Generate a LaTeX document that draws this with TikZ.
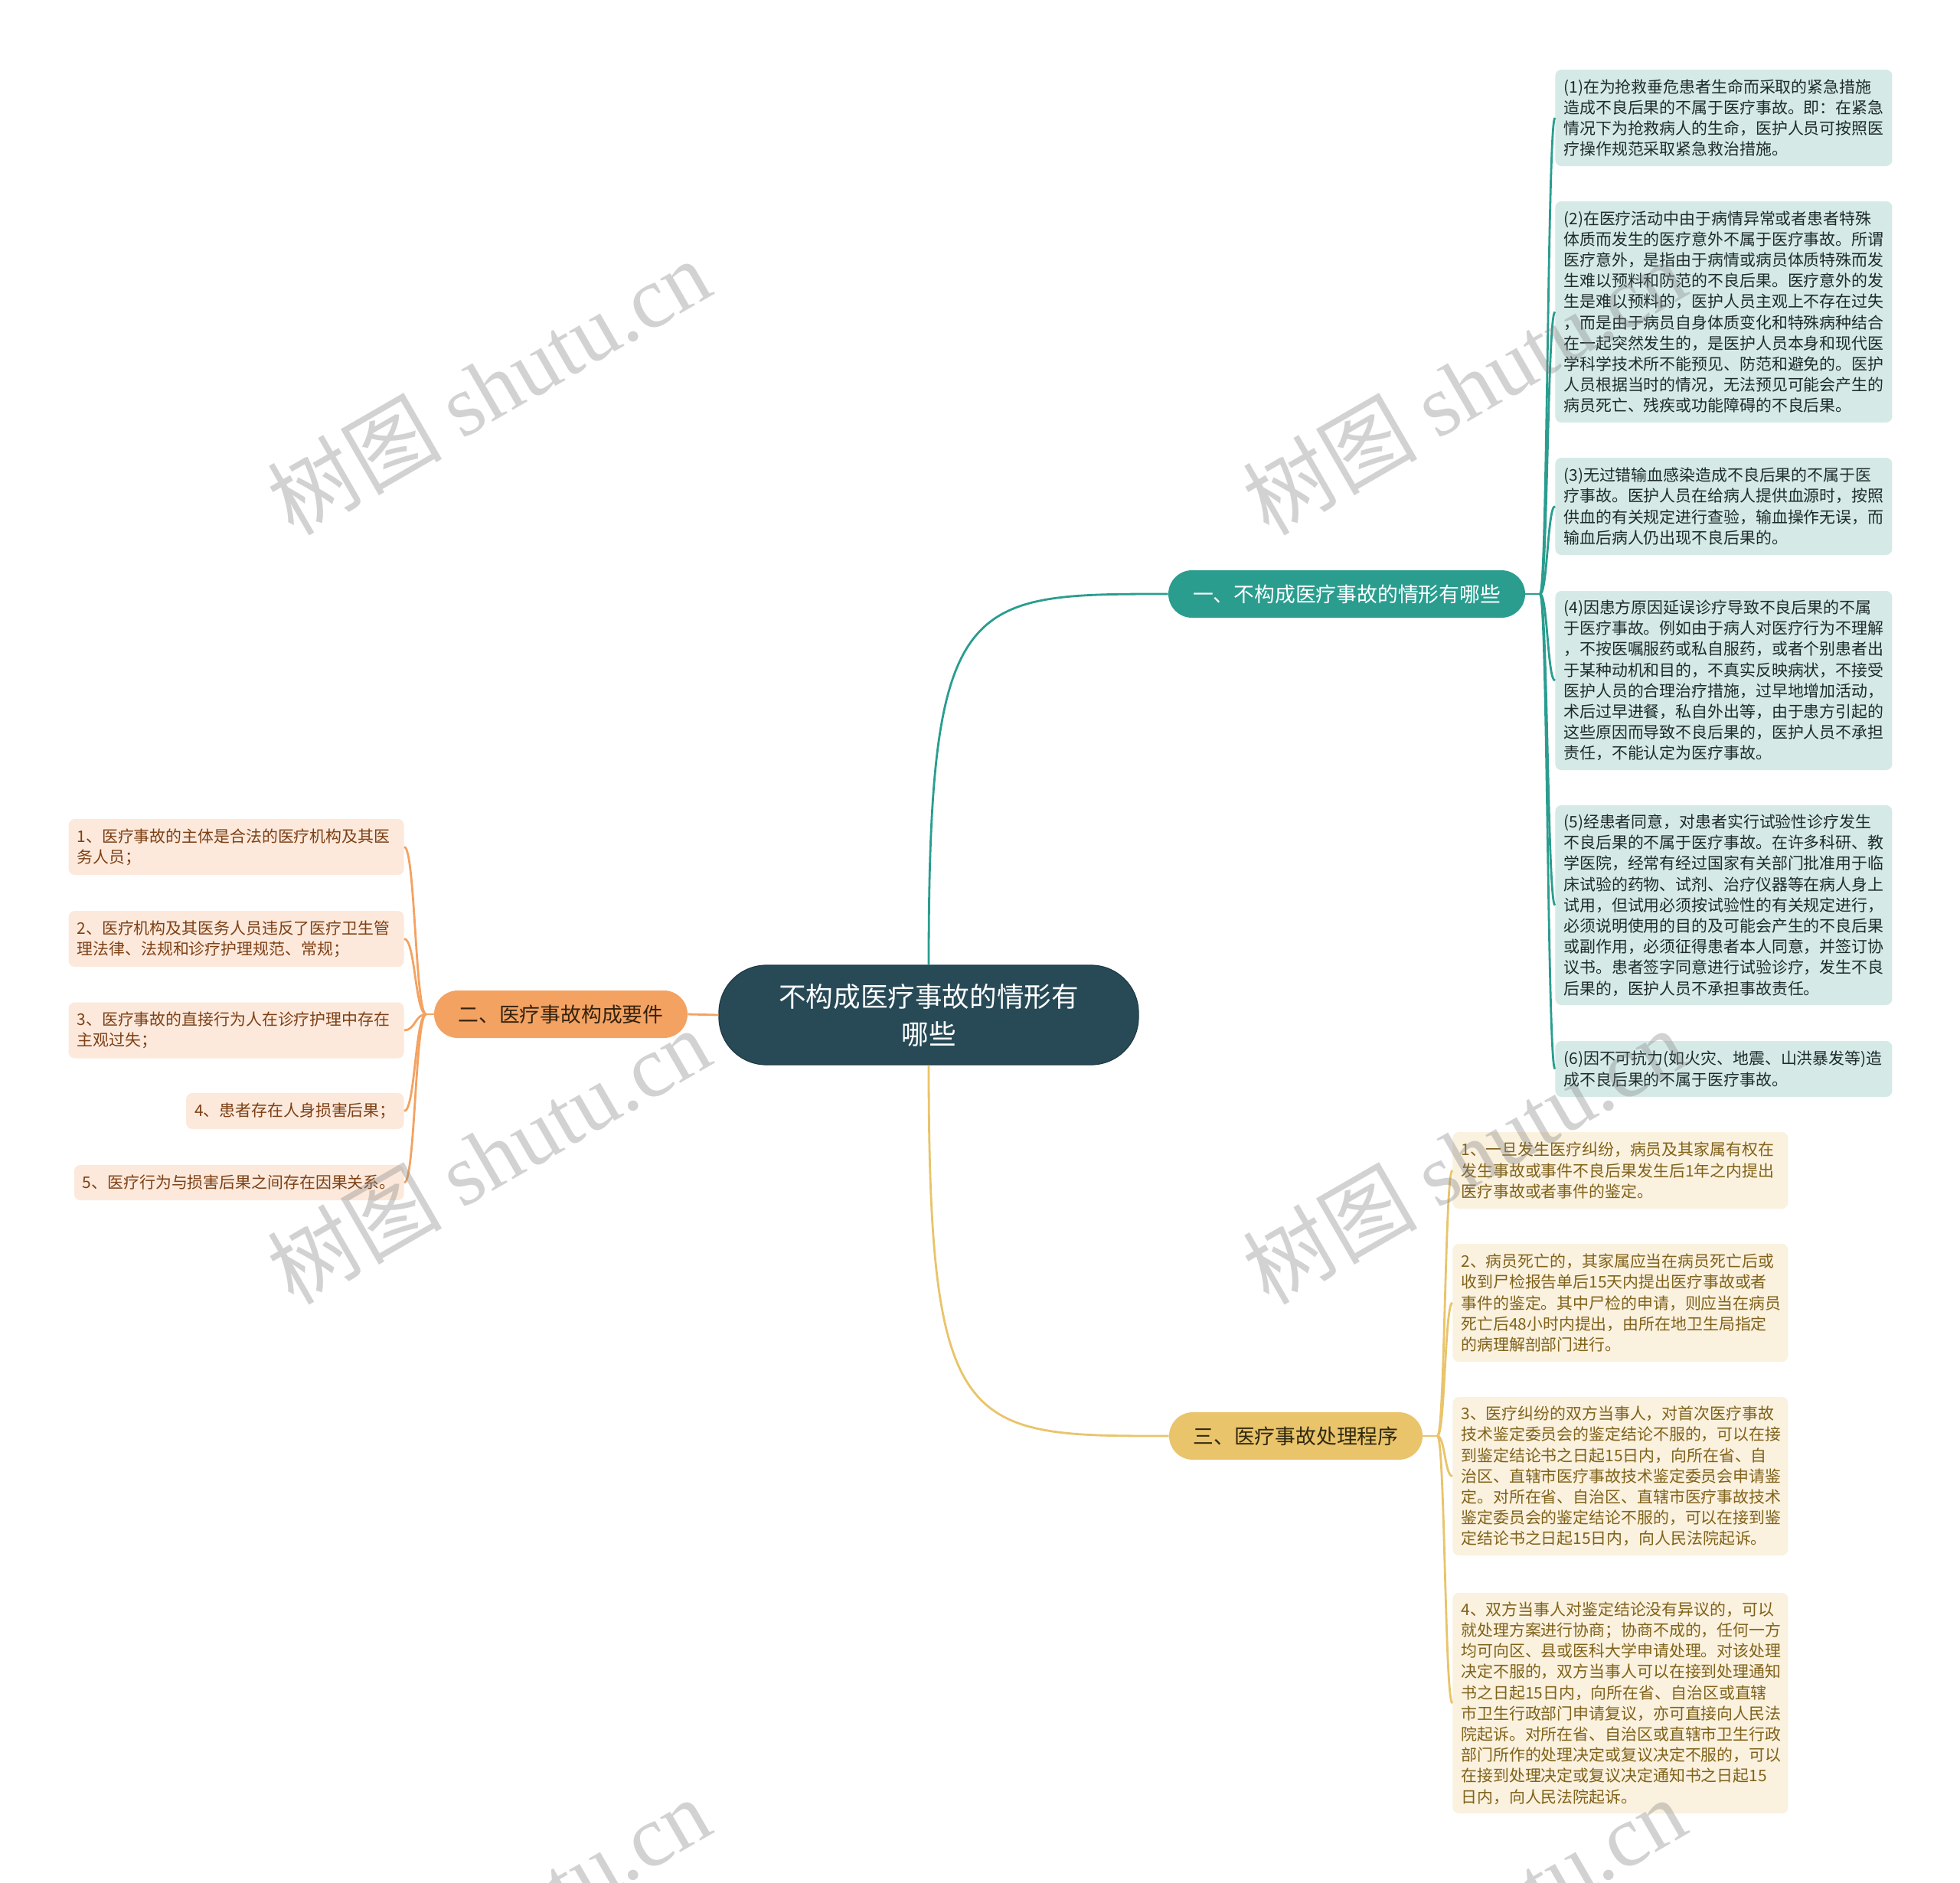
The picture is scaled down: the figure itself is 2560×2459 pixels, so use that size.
\documentclass[tikz,border=0pt]{standalone}
\usepackage{fontspec}
\setmainfont{Noto Sans CJK SC}
\newfontfamily\wmserif{Liberation Serif}
\usetikzlibrary{calc}
\definecolor{rootC}{HTML}{284A57}
\definecolor{rootB}{HTML}{1E3A45}
\definecolor{tealC}{HTML}{2A9D8F}
\definecolor{tealL}{HTML}{D5EAE7}
\definecolor{tealT}{HTML}{1E2B2A}
\definecolor{orC}{HTML}{F4A261}
\definecolor{orL}{HTML}{FCE9DC}
\definecolor{orT}{HTML}{7D4015}
\definecolor{orBT}{HTML}{33220F}
\definecolor{yeC}{HTML}{E9C46A}
\definecolor{yeL}{HTML}{FAF1DE}
\definecolor{yeT}{HTML}{80621A}
\definecolor{yeBT}{HTML}{2F2810}
\definecolor{wmgray}{HTML}{808080}
\newcommand{\leaffont}{\fontsize{10.45pt}{13.6pt}\selectfont}
\newcommand{\brfont}{\fontsize{13.4pt}{16pt}\selectfont}
\newcommand{\rootfont}{\fontsize{17.8pt}{24.5pt}\selectfont}
\tikzset{
  leafbase/.style={rounded corners=4pt, inner xsep=5.5pt, inner ysep=0pt, align=left, font=\leaffont},
  leafT/.style={leafbase, fill=tealL, text=tealT, text width=209pt, anchor=west},
  leafY/.style={leafbase, fill=yeL, text=yeT, text width=208pt, anchor=west},
  leafO/.style={leafbase, fill=orL, text=orT, anchor=east},
  branchbox/.style={rounded corners=15.5pt, minimum height=31pt, inner xsep=0pt, inner ysep=0pt, font=\brfont},
  rootbox/.style={rounded corners=31pt, fill=rootC, draw=rootB, line width=0.6pt, text=white, align=center, font=\rootfont, minimum width=274pt, minimum height=65pt},
  conn/.style={line width=1.4pt},
  sconn/.style={to path={.. controls ($(\tikztostart)!0.5!(\tikztotarget |- \tikztostart)$) and ($(\tikztotarget)!0.5!(\tikztostart |- \tikztotarget)$) .. (\tikztotarget)}},
  wm/.style={rotate=30, text=wmgray, text opacity=0.35, font=\fontsize{57pt}{60pt}\selectfont}
}
\begin{document}
\begin{tikzpicture}[x=0.5pt,y=-0.5pt]
\useasboundingbox (0,0) rectangle (2560,2459);
\fill[white] (0,0) rectangle (2560,2459);

% root
\node[rootbox] (root) at (1213,1326) {不构成医疗事故的情形有\\哪些};

% branches
\node[branchbox, fill=tealC, text=white, minimum width=233pt] (B1) at (1759,776) {一、不构成医疗事故的情形有哪些};
\node[branchbox, fill=orC, text=orBT, minimum width=165.5pt] (B2) at (732.5,1325) {二、医疗事故构成要件};
\node[branchbox, fill=yeC, text=yeBT, minimum width=165.5pt] (B3) at (1692.5,1876) {三、医疗事故处理程序};

% teal leaves
\node[leafT, minimum height=63pt] (T1) at (2031,154) {(1)在为抢救垂危患者生命而采取的紧急措施\\造成不良后果的不属于医疗事故。即：在紧急\\情况下为抢救病人的生命，医护人员可按照医\\疗操作规范采取紧急救治措施。};
\node[leafT, minimum height=144.5pt] (T2) at (2031,407.5) {(2)在医疗活动中由于病情异常或者患者特殊\\体质而发生的医疗意外不属于医疗事故。所谓\\医疗意外，是指由于病情或病员体质特殊而发\\生难以预料和防范的不良后果。医疗意外的发\\生是难以预料的，医护人员主观上不存在过失\\，而是由于病员自身体质变化和特殊病种结合\\在一起突然发生的，是医护人员本身和现代医\\学科学技术所不能预见、防范和避免的。医护\\人员根据当时的情况，无法预见可能会产生的\\病员死亡、残疾或功能障碍的不良后果。};
\node[leafT, minimum height=63.5pt] (T3) at (2031,661.5) {(3)无过错输血感染造成不良后果的不属于医\\疗事故。医护人员在给病人提供血源时，按照\\供血的有关规定进行查验，输血操作无误，而\\输血后病人仍出现不良后果的。};
\node[leafT, minimum height=117pt] (T4) at (2031,889) {(4)因患方原因延误诊疗导致不良后果的不属\\于医疗事故。例如由于病人对医疗行为不理解\\，不按医嘱服药或私自服药，或者个别患者出\\于某种动机和目的，不真实反映病状，不接受\\医护人员的合理治疗措施，过早地增加活动，\\术后过早进餐，私自外出等，由于患方引起的\\这些原因而导致不良后果的，医护人员不承担\\责任，不能认定为医疗事故。};
\node[leafT, minimum height=130.5pt] (T5) at (2031,1182.5) {(5)经患者同意，对患者实行试验性诊疗发生\\不良后果的不属于医疗事故。在许多科研、教\\学医院，经常有经过国家有关部门批准用于临\\床试验的药物、试剂、治疗仪器等在病人身上\\试用，但试用必须按试验性的有关规定进行，\\必须说明使用的目的及可能会产生的不良后果\\或副作用，必须征得患者本人同意，并签订协\\议书。患者签字同意进行试验诊疗，发生不良\\后果的，医护人员不承担事故责任。};
\node[leafT, minimum height=36.5pt] (T6) at (2031,1396.5) {(6)因不可抗力(如火灾、地震、山洪暴发等)造\\成不良后果的不属于医疗事故。};

% yellow leaves
\node[leafY, minimum height=50pt] (Y1) at (1897,1529) {1、一旦发生医疗纠纷，病员及其家属有权在\\发生事故或事件不良后果发生后1年之内提出\\医疗事故或者事件的鉴定。};
\node[leafY, minimum height=77pt] (Y2) at (1897,1702) {2、病员死亡的，其家属应当在病员死亡后或\\收到尸检报告单后15天内提出医疗事故或者\\事件的鉴定。其中尸检的申请，则应当在病员\\死亡后48小时内提出，由所在地卫生局指定\\的病理解剖部门进行。};
\node[leafY, minimum height=103.5pt] (Y3) at (1897,1928.5) {3、医疗纠纷的双方当事人，对首次医疗事故\\技术鉴定委员会的鉴定结论不服的，可以在接\\到鉴定结论书之日起15日内，向所在省、自\\治区、直辖市医疗事故技术鉴定委员会申请鉴\\定。对所在省、自治区、直辖市医疗事故技术\\鉴定委员会的鉴定结论不服的，可以在接到鉴\\定结论书之日起15日内，向人民法院起诉。};
\node[leafY, minimum height=144pt] (Y4) at (1897,2225) {4、双方当事人对鉴定结论没有异议的，可以\\就处理方案进行协商；协商不成的，任何一方\\均可向区、县或医科大学申请处理。对该处理\\决定不服的，双方当事人可以在接到处理通知\\书之日起15日内，向所在省、自治区或直辖\\市卫生行政部门申请复议，亦可直接向人民法\\院起诉。对所在省、自治区或直辖市卫生行政\\部门所作的处理决定或复议决定不服的，可以\\在接到处理决定或复议决定通知书之日起15\\日内，向人民法院起诉。};

% orange leaves
\node[leafO, text width=208pt, minimum height=36.5pt] (O1) at (528,1106.5) {1、医疗事故的主体是合法的医疗机构及其医\\务人员；};
\node[leafO, text width=208pt, minimum height=36.5pt] (O2) at (528,1226.5) {2、医疗机构及其医务人员违反了医疗卫生管\\理法律、法规和诊疗护理规范、常规；};
\node[leafO, text width=208pt, minimum height=36.5pt] (O3) at (528,1346) {3、医疗事故的直接行为人在诊疗护理中存在\\主观过失；};
\node[leafO, minimum height=23.5pt] (O4) at (528,1451.5) {4、患者存在人身损害后果；};
\node[leafO, minimum height=23pt] (O5) at (528,1545) {5、医疗行为与损害后果之间存在因果关系。};

% main connectors
\draw[conn, tealC] (root.north) .. controls (root.north |- B1.west) and ($(B1.west)!0.85!(root.north |- B1.west)$) .. (B1.west);
\draw[conn, yeC] (root.south) .. controls (root.south |- B3.west) and ($(B3.west)!0.85!(root.south |- B3.west)$) .. (B3.west);
\draw[conn, orC] (root.west) -- (B2.east);

% branch anchors
\coordinate (a1) at ([xshift=9.5pt]B1.east);
\coordinate (a2) at ([xshift=-5pt]B2.west);
\coordinate (a3) at ([xshift=9.5pt]B3.east);
\draw[conn, tealC] (B1.east) -- (a1);
\draw[conn, orC] (B2.west) -- (a2);
\draw[conn, yeC] (B3.east) -- (a3);

\foreach \n in {T1,T2,T3,T4,T5,T6} \draw[conn, tealC] (a1) to[sconn] (\n.west);
\foreach \n in {Y1,Y2,Y3,Y4} \draw[conn, yeC] (a3) to[sconn] (\n.west);
\foreach \n in {O1,O2,O3,O4,O5} \draw[conn, orC] (a2) to[sconn] (\n.east);

% watermarks
\begin{scope}
\clip (0,0) rectangle (2560,2459);
\foreach \wx/\wy [count=\i] in {638/505,1912/505,638/1510,1912/1510,638/2515,1912/2515}
  \node[wm] (wm\i) at (\wx,\wy) {树图 {\wmserif shutu.cn}};
\end{scope}
\end{tikzpicture}
\end{document}
